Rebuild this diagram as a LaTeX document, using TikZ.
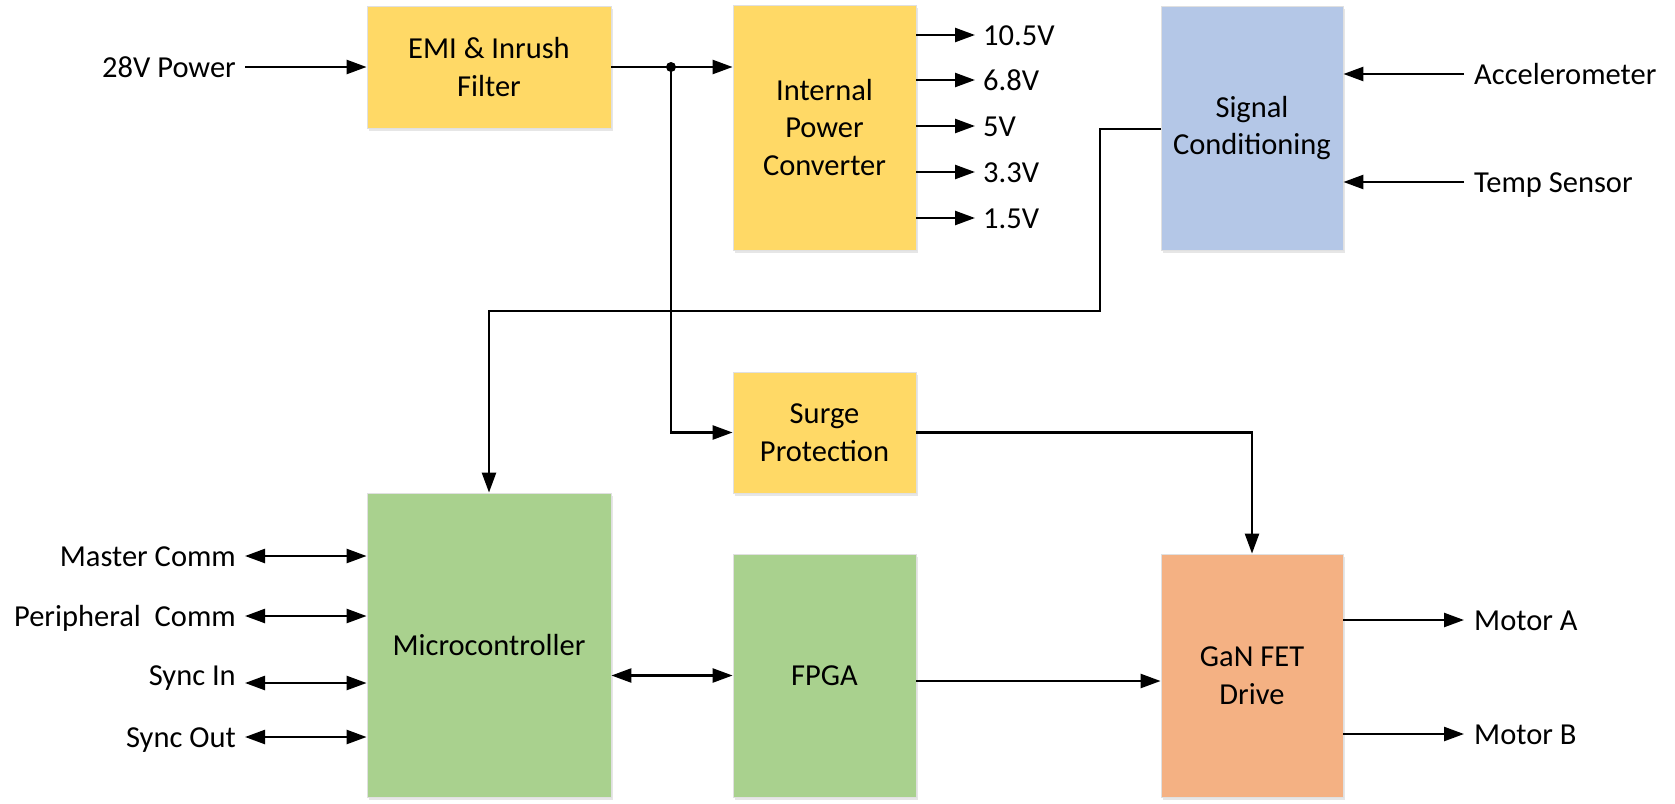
\documentclass[tikz,border=0pt]{standalone}
\usepackage{fontspec}
\setmainfont{Carlito}
\usetikzlibrary{arrows.meta,shadows}
\definecolor{boxyellow}{HTML}{FFD966}
\definecolor{boxblue}{HTML}{B4C7E7}
\definecolor{boxgreen}{HTML}{A9D18E}
\definecolor{boxorange}{HTML}{F4B183}
\begin{document}
\begin{tikzpicture}[x=1pt,y=-1pt,
  txt/.style={font=\fontsize{30.5}{37.5}\selectfont},
  block/.style={txt, draw=black!12, line width=0.8pt, inner sep=0pt, align=center,
    drop shadow={shadow xshift=2pt, shadow yshift=-3pt, opacity=0.2}},
  lbl/.style={txt, inner sep=0pt, text height=28pt, text depth=7pt},
  wire/.style={line width=2.4pt},
  tip/.tip={Triangle[length=20pt,width=14pt]},
  arr/.style={wire, -tip},
  biarr/.style={wire, tip-tip}]
\useasboundingbox (0,0) rectangle (1675,803);

% blocks
\node[block, fill=boxyellow, minimum width=244pt, minimum height=122pt] (emi) at (489,67) {EMI \& Inrush\\Filter};
\node[block, fill=boxyellow, minimum width=183pt, minimum height=245pt] (ipc) at (824.5,127.5) {Internal\\Power\\Converter};
\node[block, fill=boxblue, minimum width=182pt, minimum height=244pt] (sc) at (1252,128) {Signal\\Conditioning};
\node[block, fill=boxyellow, minimum width=183pt, minimum height=121pt] (surge) at (824.5,432.5) {Surge\\Protection};
\node[block, fill=boxgreen, minimum width=244pt, minimum height=304pt] (mcu) at (489,645) {Microcontroller};
\node[block, fill=boxgreen, minimum width=183pt, minimum height=243pt] (fpga) at (824.5,675.5) {FPGA};
\node[block, fill=boxorange, minimum width=182pt, minimum height=243pt] (gan) at (1252,675.5) {GaN FET\\Drive};

% power input and junction
\node[lbl, anchor=east] (pwr) at (236,67) {28V Power};
\draw[arr] ([xshift=9pt]pwr.east) -- (emi.west);
\coordinate (j) at (671,67);
\draw[wire] (emi.east) -- (j);
\draw[arr] (j) -- (ipc.west |- j);
\fill (j) circle (5pt);
\draw[arr] (j) |- (surge.west);

% converter outputs
\foreach \v/\y [count=\i] in {10.5V/35, 6.8V/80, 5V/126, 3.3V/172, 1.5V/218}{
  \node[lbl, anchor=west] (out\i) at (983,\y) {\v};
  \draw[arr] (ipc.east |- out\i) -- ([xshift=-8pt]out\i.west);
}

% sensor inputs
\node[lbl, anchor=west] (acc) at (1474,74) {Accelerometer};
\draw[arr] ([xshift=-10pt]acc.west) -- (sc.east |- acc);
\node[lbl, anchor=west] (temp) at (1474,182) {Temp Sensor};
\draw[arr] ([xshift=-10pt]temp.west) -- (sc.east |- temp);

% conditioned signals to the microcontroller
\coordinate (k1) at (1100,311);
\draw[arr] ([yshift=-1pt]sc.west) -| (k1) -| (mcu.north);

% surge protection to the drive
\draw[arr] (surge.east) -| (gan.north);

% microcontroller interfaces
\node[lbl, anchor=east] (mc) at (236,556) {Master Comm};
\node[lbl, anchor=east] (pc) at (236,616) {Peripheral\ \ Comm};
\node[lbl, anchor=east] (si) at (236,675) {Sync In};
\node[lbl, anchor=east] (so) at (236,737) {Sync Out};
\coordinate (mcA) at (245,556);
\coordinate (pcA) at (245,616);
\coordinate (siA) at (245,683);
\coordinate (soA) at (245,737);
\foreach \c in {mcA,pcA,siA,soA}{
  \draw[biarr] (\c) -- (mcu.west |- \c);
}

% processing chain
\draw[biarr] (mcu.east |- fpga.center) -- (fpga.west);
\draw[arr] ([yshift=-5.5pt]fpga.east) -- ([yshift=-5.5pt]gan.west);

% motor outputs
\node[lbl, anchor=west] (ma) at (1474,620) {Motor A};
\draw[arr] (gan.east |- ma) -- ([xshift=-10pt]ma.west);
\node[lbl, anchor=west] (mb) at (1474,734) {Motor B};
\draw[arr] (gan.east |- mb) -- ([xshift=-10pt]mb.west);
\end{tikzpicture}
\end{document}
